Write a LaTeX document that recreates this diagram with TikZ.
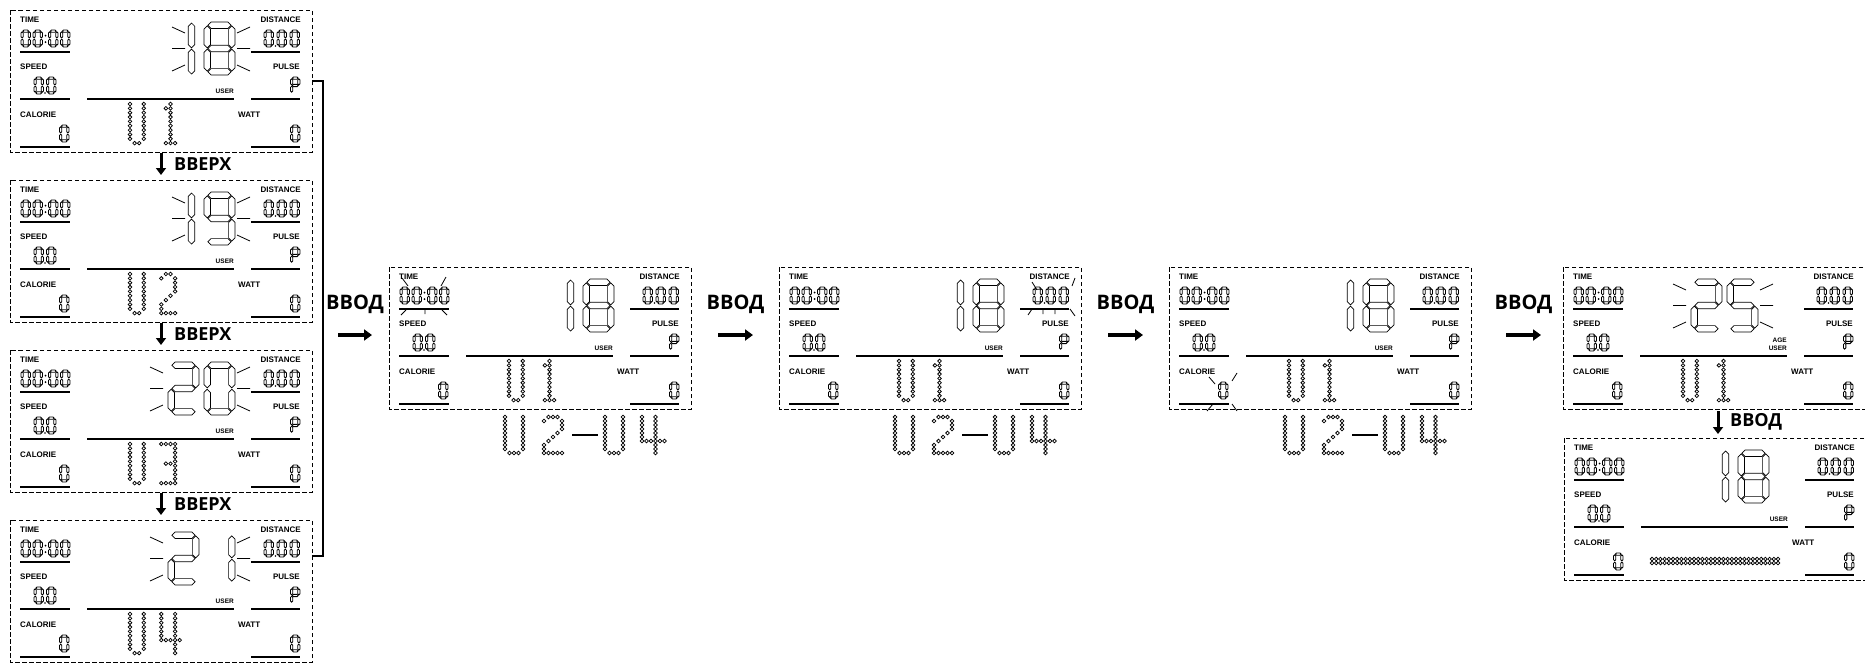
\documentclass[tikz,border=0pt]{standalone}
\usepackage{fontspec}
\setmainfont{Liberation Sans}
\newfontfamily\cyr{Open Sans}
\usetikzlibrary{arrows.meta}
\makeatletter
\newcommand\HS[4]{\draw[seg] (#1,#3) -- ({#1+#4},{#3-#4}) -- ({#2-#4},{#3-#4}) -- (#2,#3) -- ({#2-#4},{#3+#4}) -- ({#1+#4},{#3+#4}) -- cycle;}
\newcommand\VS[4]{\draw[seg] (#1,#2) -- ({#1+#4},{#2+#4}) -- ({#1+#4},{#3-#4}) -- (#1,#3) -- ({#1-#4},{#3-#4}) -- ({#1-#4},{#2+#4}) -- cycle;}
\newcommand\SSeg[6]{%
 \pgfmathsetmacro\sgl{#1+#5}\pgfmathsetmacro\sgr{#1+#3-#5}%
 \pgfmathsetmacro\sgha{#1+#5+0.7}\pgfmathsetmacro\sghb{#1+#3-#5-0.7}%
 \pgfmathsetmacro\sgt{#2+#5}\pgfmathsetmacro\sgm{#2+#4/2}\pgfmathsetmacro\sgb{#2+#4-#5}%
 \pgfmathsetmacro\sgta{#2+#5+0.7}\pgfmathsetmacro\sgtb{#2+#4/2-0.7}%
 \pgfmathsetmacro\sgba{#2+#4/2+0.7}\pgfmathsetmacro\sgbb{#2+#4-#5-0.7}%
 \in@{a}{#6}\ifin@\HS{\sgha}{\sghb}{\sgt}{#5}\fi
 \in@{g}{#6}\ifin@\HS{\sgha}{\sghb}{\sgm}{#5}\fi
 \in@{d}{#6}\ifin@\HS{\sgha}{\sghb}{\sgb}{#5}\fi
 \in@{f}{#6}\ifin@\VS{\sgl}{\sgta}{\sgtb}{#5}\fi
 \in@{b}{#6}\ifin@\VS{\sgr}{\sgta}{\sgtb}{#5}\fi
 \in@{e}{#6}\ifin@\VS{\sgl}{\sgba}{\sgbb}{#5}\fi
 \in@{c}{#6}\ifin@\VS{\sgr}{\sgba}{\sgbb}{#5}\fi
}
\makeatother
\newcommand\SD[3]{\begin{scope}[seg/.append style={line width=0.85pt}]\SSeg{#1}{#2}{9.5}{17}{1.15}{#3}\end{scope}}
\newcommand\BD[3]{\SSeg{#1}{#2}{31}{53}{3.2}{#3}}
\newcommand\DG[5]{\foreach \c/\r in #5 {\draw[dotc] ({#1+\c*#3},{#2+\r*#4}) circle[radius=1.8pt];}}
\def\gU{0/0,0/1,0/2,0/3,0/4,0/5,0/6,0/7,0/8,3/0,3/1,3/2,3/3,3/4,3/5,3/6,3/7,3/8,1/9,2/9}
\def\gI{1/1,2/0,2/1,2/2,2/3,2/4,2/5,2/6,2/7,2/8,2/9,1/9,3/9}
\def\gII{0/1,1/0,2/0,3/1,3/2,3/3,3/4,2/5,1/6,0/7,0/8,0/9,1/9,2/9,3/9}
\def\gIII{0/0,1/0,2/0,3/0,3/1,3/2,3/3,3/4,3/5,3/6,3/7,3/8,3/9,1/4.5,2/4.5,0/9,1/9,2/9}
\def\gIV{0/0,0/1,0/2,0/3,0/4,0/5,0/6,1/6,2/6,4/6,3/0,3/1,3/2,3/3,3/4,3/5,3/6,3/7,3/8,3/9}
\def\gUw{0/0,0/1,0/2,0/3,0/4,0/5,0/6,0/7,0/8,4/0,4/1,4/2,4/3,4/4,4/5,4/6,4/7,4/8,1/9,2/9,3/9}
\def\gIIw{0/1,1/0,2/0,3/0,4/1,4/2,4/3,3/4,2/5,1/6,0/7,0/8,0/9,1/9,2/9,3/9,4/9}
\def\gIVw{0/0,0/1,0/2,0/3,0/4,0/5,0/6,1/6,2/6,4/6,5/6,3/0,3/1,3/2,3/3,3/4,3/5,3/6,3/7,3/8,3/9}
% panel frame with common content
\newcommand\Panel[3]{%
\begin{scope}[shift={(#2,#3)}]
 \draw[box] (0,0) rectangle (302,142);
 \node[lab,anchor=west] (#1-time) at (10,10) {TIME};
 \node[lab,anchor=west] (#1-speed) at (10,57) {SPEED};
 \node[lab,anchor=west] (#1-cal) at (10,105) {CALORIE};
 \node[lab,anchor=east] (#1-dist) at (291,10) {DISTANCE};
 \node[lab,anchor=east] (#1-pulse) at (290,57) {PULSE};
 \node[lab,anchor=west] (#1-watt) at (228,105) {WATT};
 \node[slab,anchor=east] (#1-user) at (224,81) {USER};
 \draw[bar] (10,42) -- (60,42) (10,89) -- (60,89) (10,137) -- (60,137)
   (241,42) -- (290,42) (241,89) -- (290,89) (241,137) -- (290,137) (77,89) -- (224,89);
 \SD{11}{20}{abcdef}\SD{23}{20}{abcdef}\SD{38.5}{20}{abcdef}\SD{50.5}{20}{abcdef}
 \fill (35.5,25.5) circle[radius=1pt] (35.5,32) circle[radius=1pt];
 \SD{24}{67}{abcdef}\SD{36.5}{67}{abcdef}\fill (35,83) circle[radius=0.9pt];
 \SD{49.5}{115}{abcdef}
 \SD{254}{20}{abcdef}\SD{267}{20}{abcdef}\SD{280}{20}{abcdef}\fill (265.5,36) circle[radius=0.9pt];
 \SD{280.5}{67}{abefg}
 \SD{280.5}{115}{abcdef}
\end{scope}}
\newcommand\BigRays[2]{\draw[ray] (#1,17) -- ++(13,6) (#1,38.5) -- ++(13,0) (#1,61) -- ++(13,-6)
  (#2,23) -- ++(13,-6) (#2,38.5) -- ++(13,0) (#2,55) -- ++(13,6);}
\newcommand\TensOne[1][0]{\VS{181.5+#1}{13}{37.8}{3.2}\VS{181.5+#1}{39.2}{64}{3.2}}
\tikzset{
 box/.style={dash pattern=on 4.5pt off 2.5pt, line width=0.9pt},
 seg/.style={line width=0.7pt, line join=miter},
 bar/.style={line width=1.8pt},
 lab/.style={font=\fontsize{8}{8}\selectfont\bfseries, inner sep=0pt},
 slab/.style={font=\fontsize{6.5}{6.5}\selectfont\bfseries, inner sep=0pt},
 dotc/.style={line width=0.75pt},
 ray/.style={line width=0.8pt},
 cyrl/.style={font=\cyr\bfseries\fontsize{20}{20}\selectfont, inner sep=0pt},
 cyrs/.style={font=\cyr\bfseries\fontsize{18}{18}\selectfont, inner sep=0pt},
 harrow/.style={line width=3.2pt, -{Triangle[length=8pt,width=11pt]}},
 varrow/.style={line width=3pt, -{Triangle[length=7pt,width=10pt]}},
}
\begin{document}
\begin{tikzpicture}[x=1pt,y=-1pt]
\useasboundingbox (0,0) rectangle (1865,662);
% ---- left column ----
\Panel{pa}{10}{10}
\begin{scope}[shift={(10,10)}]
 \TensOne \BD{194}{12}{abcdefg} \BigRays{162}{227}
 \DG{120}{94}{4.6}{4.35}{\gU}\DG{151.3}{94}{4.6}{4.35}{\gI}
\end{scope}
\Panel{pb}{10}{180}
\begin{scope}[shift={(10,180)}]
 \TensOne \BD{194}{12}{abcdfg} \BigRays{162}{227}
 \DG{120}{94}{4.6}{4.35}{\gU}\DG{151.3}{94}{4.6}{4.35}{\gII}
\end{scope}
\Panel{pc}{10}{350}
\begin{scope}[shift={(10,350)}]
 \BD{158}{12}{abdeg} \BD{194}{12}{abcdef} \BigRays{140}{227}
 \DG{120}{94}{4.6}{4.35}{\gU}\DG{151.3}{94}{4.6}{4.35}{\gIII}
\end{scope}
\Panel{pd}{10}{520}
\begin{scope}[shift={(10,520)}]
 \BD{158}{12}{abdeg} \BD{194}{12}{bc} \BigRays{140}{227}
 \DG{120}{94}{4.6}{4.35}{\gU}\DG{151.3}{94}{4.6}{4.35}{\gIV}
\end{scope}
% up arrows
\foreach \n/\ya/\yb in {1/153/175,2/323/345,3/493/515}{
 \coordinate (up\n s) at (161,\ya); \coordinate (up\n e) at (161,\yb);
 \draw[varrow] (up\n s) -- (up\n e);
 \node[cyrs,anchor=west] (up\n t) at (174,{(\ya+\yb)/2}) {ВВЕРХ};
}
% bracket
\coordinate (br1) at (312,81); \coordinate (br2) at (323,81);
\coordinate (br3) at (323,556); \coordinate (br4) at (312,556);
\draw[line width=1.5pt] (br1) -- (br2) -- (br3) -- (br4);
% ---- panel 2 ----
\Panel{p2}{389}{267}
\begin{scope}[shift={(389,267)}]
 \TensOne \BD{194}{12}{abcdefg}
 \DG{120}{94}{4.6}{4.35}{\gU}\DG{151.3}{94}{4.6}{4.35}{\gI}
 \draw[ray] (13,11) -- (19,19) (57,10) -- (52,19) (12,48) -- (17,43) (53,43) -- (58,48) (36,43) -- (36,47);
 \DG{116}{150}{4.5}{4.0}{\gUw}\DG{155}{150}{4.5}{4.0}{\gIIw}
 \draw[line width=1.5pt] (183,168) -- (209,168);
 \DG{216}{150}{4.5}{4.0}{\gUw}\DG{253}{150}{4.5}{4.0}{\gIVw}
\end{scope}
% ---- panel 3 ----
\Panel{p3}{779}{267}
\begin{scope}[shift={(779,267)}]
 \TensOne \BD{194}{12}{abcdefg}
 \DG{120}{94}{4.6}{4.35}{\gU}\DG{151.3}{94}{4.6}{4.35}{\gI}
 \draw[ray] (253,15) -- (258,23) (296,11) -- (293,19) (249,48) -- (253,42) (291,42) -- (296,49) (264,43) -- (264,47) (276,43) -- (276,47);
 \DG{116}{150}{4.5}{4.0}{\gUw}\DG{155}{150}{4.5}{4.0}{\gIIw}
 \draw[line width=1.5pt] (183,168) -- (209,168);
 \DG{216}{150}{4.5}{4.0}{\gUw}\DG{253}{150}{4.5}{4.0}{\gIVw}
\end{scope}
% ---- panel 4 ----
\Panel{p4}{1169}{267}
\begin{scope}[shift={(1169,267)}]
 \TensOne \BD{194}{12}{abcdefg}
 \DG{120}{94}{4.6}{4.35}{\gU}\DG{151.3}{94}{4.6}{4.35}{\gI}
 \draw[ray] (40,110) -- (46,117) (68,106) -- (63,114) (38,144) -- (44,137) (63,137) -- (68,144);
 \DG{116}{150}{4.5}{4.0}{\gUw}\DG{155}{150}{4.5}{4.0}{\gIIw}
 \draw[line width=1.5pt] (183,168) -- (209,168);
 \DG{216}{150}{4.5}{4.0}{\gUw}\DG{253}{150}{4.5}{4.0}{\gIVw}
\end{scope}
% ---- panel 5 ----
\Panel{p5}{1563}{267}
\begin{scope}[shift={(1563,267)}]
 \BD{128}{12}{abdeg} \BD{164}{12}{acdfg} \BigRays{110}{197}
 \node[slab,anchor=east] (p5-age) at (224,73) {AGE};
 \DG{120}{94}{4.6}{4.35}{\gU}\DG{151.3}{94}{4.6}{4.35}{\gI}
\end{scope}
% ---- panel 6 ----
\Panel{p6}{1564}{438}
\begin{scope}[shift={(1564,438)}]
 \TensOne[-20] \BD{174}{12}{abcdefg}
 \foreach \i in {0,...,30} {\draw[dotc] ({88+\i*4.2},121) circle[radius=1.8pt] ({88+\i*4.2},125) circle[radius=1.8pt];}
\end{scope}
% ---- horizontal ВВОД arrows ----
\foreach \n/\xa/\xb in {1/338/372,2/718/753,3/1108/1143,4/1506/1541}{
 \coordinate (ent\n s) at (\xa,335); \coordinate (ent\n e) at (\xb,335);
 \draw[harrow] (ent\n s) -- (ent\n e);
 \node[cyrl] (ent\n t) at ({(\xa+\xb)/2},304) {ВВОД};
}
\coordinate (ent5s) at (1718,411); \coordinate (ent5e) at (1718,434);
\draw[varrow] (ent5s) -- (ent5e);
\node[cyrs,anchor=west] (ent5t) at (1730,422) {ВВОД};
\end{tikzpicture}
\end{document}
